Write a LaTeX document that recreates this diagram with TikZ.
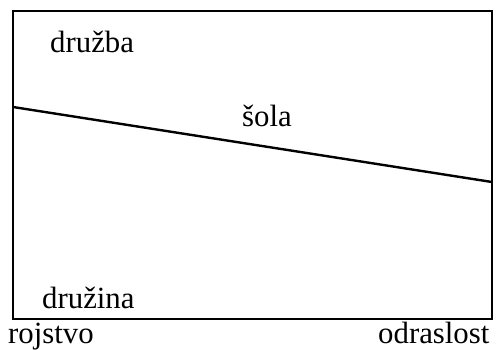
\documentclass[tikz,border=0pt]{standalone}
\usepackage{fontspec}
\setmainfont{Liberation Serif}
\begin{document}
\begin{tikzpicture}[x=1pt,y=-1pt,
  frame/.style={draw=black,line width=2.6pt},
  divider/.style={draw=black,line width=2.4pt},
  lbl/.style={inner sep=0pt,anchor=base west,font=\fontsize{30.8}{34}\selectfont}]
\useasboundingbox (0,0) rectangle (498,349);
\draw[frame] (13,11) rectangle (492,319);
\coordinate (L) at (13,107);
\coordinate (R) at (492,182);
\draw[divider] (L) -- (R);
\node[lbl] (druzba) at (50,52) {družba};
\node[lbl] (sola) at (242,126) {šola};
\node[lbl] (druzina) at (42,308) {družina};
\node[lbl] (rojstvo) at (8,343) {rojstvo};
\node[lbl] (odraslost) at (378,343) {odraslost};
\end{tikzpicture}
\end{document}
